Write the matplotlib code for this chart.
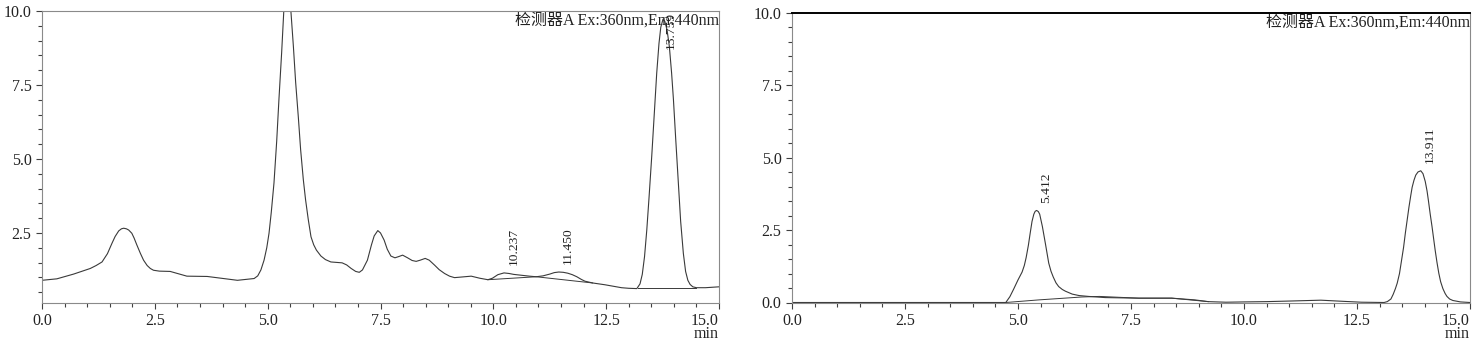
import matplotlib
matplotlib.use("Agg")
import matplotlib.pyplot as plt
from matplotlib.ticker import MultipleLocator, FormatStrFormatter, FuncFormatter

plt.rcParams['font.family'] = ['Liberation Serif', 'Noto Sans CJK SC']

# chromatogram A: retention time (min) and detector signal
time_a = [0.00, 0.33, 0.70, 1.07, 1.20, 1.33, 1.45, 1.55, 1.62, 1.70, 1.76, 1.81,
          1.87, 1.92, 1.99, 2.04, 2.10, 2.18, 2.25, 2.33, 2.40, 2.47, 2.60, 2.84,
          3.00, 3.21, 3.66, 4.03, 4.33, 4.70, 4.78, 4.85, 4.92, 4.98, 5.03, 5.08,
          5.14, 5.20, 5.25, 5.31, 5.36, 5.44, 5.51, 5.57, 5.62, 5.68, 5.73, 5.79,
          5.84, 5.90, 5.96, 6.02, 6.08, 6.18, 6.28, 6.40, 6.55, 6.65, 6.75, 6.85,
          6.95, 7.03, 7.10, 7.21, 7.30, 7.36, 7.44, 7.50, 7.58, 7.65, 7.73, 7.82,
          7.90, 7.99, 8.10, 8.20, 8.29, 8.38, 8.49, 8.58, 8.70, 8.80, 8.92, 9.03,
          9.14, 9.30, 9.51, 9.70, 9.88, 9.98, 10.10, 10.237, 10.35, 10.45, 10.62,
          10.80, 10.95, 11.10, 11.25, 11.35, 11.45, 11.55, 11.65, 11.75, 11.85,
          11.95, 12.03, 12.20, 12.47, 12.65, 12.84, 13.00, 13.18, 13.25, 13.30,
          13.35, 13.40, 13.45, 13.51, 13.56, 13.62, 13.67, 13.71, 13.759, 13.80,
          13.85, 13.90, 13.95, 13.99, 14.04, 14.10, 14.15, 14.21, 14.26, 14.31,
          14.36, 14.42, 14.50, 14.70, 15.00]
signal_a = [0.90, 0.95, 1.11, 1.30, 1.40, 1.52, 1.80, 2.15, 2.38, 2.57, 2.64, 2.66,
            2.64, 2.60, 2.49, 2.33, 2.10, 1.81, 1.58, 1.40, 1.30, 1.24, 1.21, 1.20,
            1.13, 1.04, 1.03, 0.96, 0.90, 0.96, 1.05, 1.25, 1.58, 2.00, 2.49, 3.20,
            4.19, 5.60, 7.02, 8.60, 10.08, 11.60, 10.10, 8.80, 7.59, 6.40, 5.32, 4.30,
            3.62, 2.95, 2.37, 2.10, 1.92, 1.72, 1.60, 1.52, 1.50, 1.49, 1.42, 1.30,
            1.20, 1.17, 1.25, 1.58, 2.10, 2.40, 2.58, 2.50, 2.26, 1.95, 1.72, 1.66,
            1.70, 1.75, 1.66, 1.57, 1.54, 1.58, 1.64, 1.58, 1.41, 1.26, 1.13, 1.04,
            0.99, 1.01, 1.04, 0.97, 0.92, 0.97, 1.09, 1.15, 1.13, 1.10, 1.07,
            1.04, 1.02, 1.05, 1.11, 1.16, 1.18, 1.17, 1.14, 1.09, 1.02,
            0.93, 0.87, 0.81, 0.75, 0.70, 0.65, 0.63, 0.62, 0.78, 1.10,
            1.70, 2.60, 3.70, 5.10, 6.40, 7.90, 8.90, 9.45, 9.72, 9.65,
            9.35, 8.80, 7.90, 7.02, 5.70, 4.19, 2.90, 1.81, 1.20, 0.90,
            0.76, 0.68, 0.65, 0.65, 0.68]
# integration baselines under the labelled peaks of A
base_a_t = [[9.88, 10.95, 12.20], [13.20, 14.50]]
base_a_v = [[0.92, 1.02, 0.81], [0.64, 0.64]]
peaks_a = [10.237, 11.450, 13.759]
peaks_a_v = [1.15, 1.18, 9.72]

# chromatogram B
time_b = [0.00, 4.73, 4.82, 4.90, 5.00, 5.09, 5.14, 5.18, 5.23, 5.27, 5.31, 5.35,
          5.38, 5.412, 5.45, 5.48, 5.54, 5.61, 5.68, 5.73, 5.78, 5.84, 5.90, 5.98,
          6.05, 6.20, 6.35, 6.56, 6.93, 7.67, 8.40, 8.91, 9.21, 9.60, 10.00, 10.50,
          11.00, 11.70, 12.20, 12.60, 13.10, 13.17, 13.25, 13.30, 13.35, 13.39,
          13.44, 13.48, 13.53, 13.57, 13.61, 13.65, 13.69, 13.72, 13.76, 13.80,
          13.85, 13.911, 13.96, 14.01, 14.05, 14.08, 14.12, 14.16, 14.20, 14.23,
          14.27, 14.31, 14.35, 14.40, 14.45, 14.49, 14.55, 14.62, 14.79, 15.00]
signal_b = [0.00, 0.00, 0.20, 0.45, 0.78, 1.05, 1.28, 1.55, 1.98, 2.40, 2.80, 3.05,
            3.15, 3.18, 3.14, 3.05, 2.62, 2.00, 1.36, 1.08, 0.88, 0.68, 0.55, 0.45,
            0.39, 0.29, 0.24, 0.21, 0.17, 0.15, 0.15, 0.09, 0.03, 0.01, 0.02, 0.03,
            0.05, 0.08, 0.04, 0.01, 0.00, 0.03, 0.12, 0.28, 0.48, 0.67,
            1.00, 1.40, 1.90, 2.40, 2.85, 3.30, 3.70, 3.98, 4.22, 4.40,
            4.51, 4.55, 4.45, 4.18, 3.85, 3.52, 3.05, 2.62, 2.15, 1.80,
            1.38, 1.01, 0.72, 0.48, 0.31, 0.21, 0.12, 0.07, 0.02, 0.00]
base_b_t = [[4.73, 5.46, 6.41, 6.80, 7.67, 8.40, 9.21], [13.10, 14.80]]
base_b_v = [[0.00, 0.09, 0.19, 0.21, 0.15, 0.15, 0.03], [0.00, 0.00]]
peaks_b = [5.412, 13.911]
peaks_b_v = [3.18, 4.55]

header = '检测器A Ex:360nm,Em:440nm'
line_c = '#3a3a3a'
text_c = '#222222'
spine_c = '#8a8a8a'
fs = 11.5


def xfmt(x, pos):
    # the last label is drawn separately, flush with the right spine
    return '' if x >= 15 else f'{x:.1f}'


fig = plt.figure(figsize=(14.75, 3.43), dpi=100)
ax1 = fig.add_axes([42 / 1475, 40.5 / 343, 677 / 1475, 291.5 / 343])
ax2 = fig.add_axes([792 / 1475, 40.5 / 343, 678 / 1475, 289.5 / 343])


def draw(ax, t, v, bt, bv, peaks, peaks_v, ylo):
    ax.plot(t, v, color=line_c, lw=0.8)
    for xs, ys in zip(bt, bv):
        ax.plot(xs, ys, color=line_c, lw=0.7)
    ax.set_xlim(0, 15)
    ax.set_ylim(ylo, 10)
    ax.xaxis.set_major_locator(MultipleLocator(2.5))
    ax.xaxis.set_minor_locator(MultipleLocator(0.5))
    ax.yaxis.set_major_locator(MultipleLocator(2.5))
    ax.yaxis.set_minor_locator(MultipleLocator(0.5))
    ax.xaxis.set_major_formatter(FuncFormatter(xfmt))
    ax.yaxis.set_major_formatter(FormatStrFormatter('%.1f'))
    ax.tick_params(which='major', length=4.5, width=0.8, color='#404040',
                   labelsize=fs, labelcolor=text_c, pad=3)
    ax.tick_params(which='minor', length=2.8, width=0.8, color='#404040')
    for s in ax.spines.values():
        s.set_color(spine_c)
        s.set_linewidth(0.8)
    ax.annotate('15.0', xy=(1, 0), xycoords='axes fraction', xytext=(0, -7.5),
                textcoords='offset points', ha='right', va='top', fontsize=fs,
                color=text_c)
    ax.annotate('min', xy=(1, 0), xycoords='axes fraction', xytext=(0, -17),
                textcoords='offset points', ha='right', va='top', fontsize=fs,
                color=text_c)
    ax.annotate(header, xy=(1, 1), xycoords='axes fraction', xytext=(0, -1.5),
                textcoords='offset points', ha='right', va='top', fontsize=fs,
                color=text_c)
    # retention time labels above each peak
    for p, pv in zip(peaks, peaks_v):
        if pv + 1.8 < 10:
            ax.annotate(f'{p:.3f}', xy=(p, pv), xytext=(2.5, 5.5),
                        textcoords='offset points', rotation=90, ha='left',
                        va='bottom', fontsize=9.7, color=text_c)
        else:
            ax.annotate(f'{p:.3f}', xy=(p, 10), xytext=(1.0, -1),
                        textcoords='offset points', rotation=90, ha='left',
                        va='top', fontsize=9.7, color=text_c)


draw(ax1, time_a, signal_a, base_a_t, base_a_v, peaks_a, peaks_a_v, 0.15)
draw(ax2, time_b, signal_b, base_b_t, base_b_v, peaks_b, peaks_b_v, 0.0)
ax2.spines['top'].set_color('black')
ax2.spines['top'].set_linewidth(1.4)

fig.savefig('out.png', dpi=100)
